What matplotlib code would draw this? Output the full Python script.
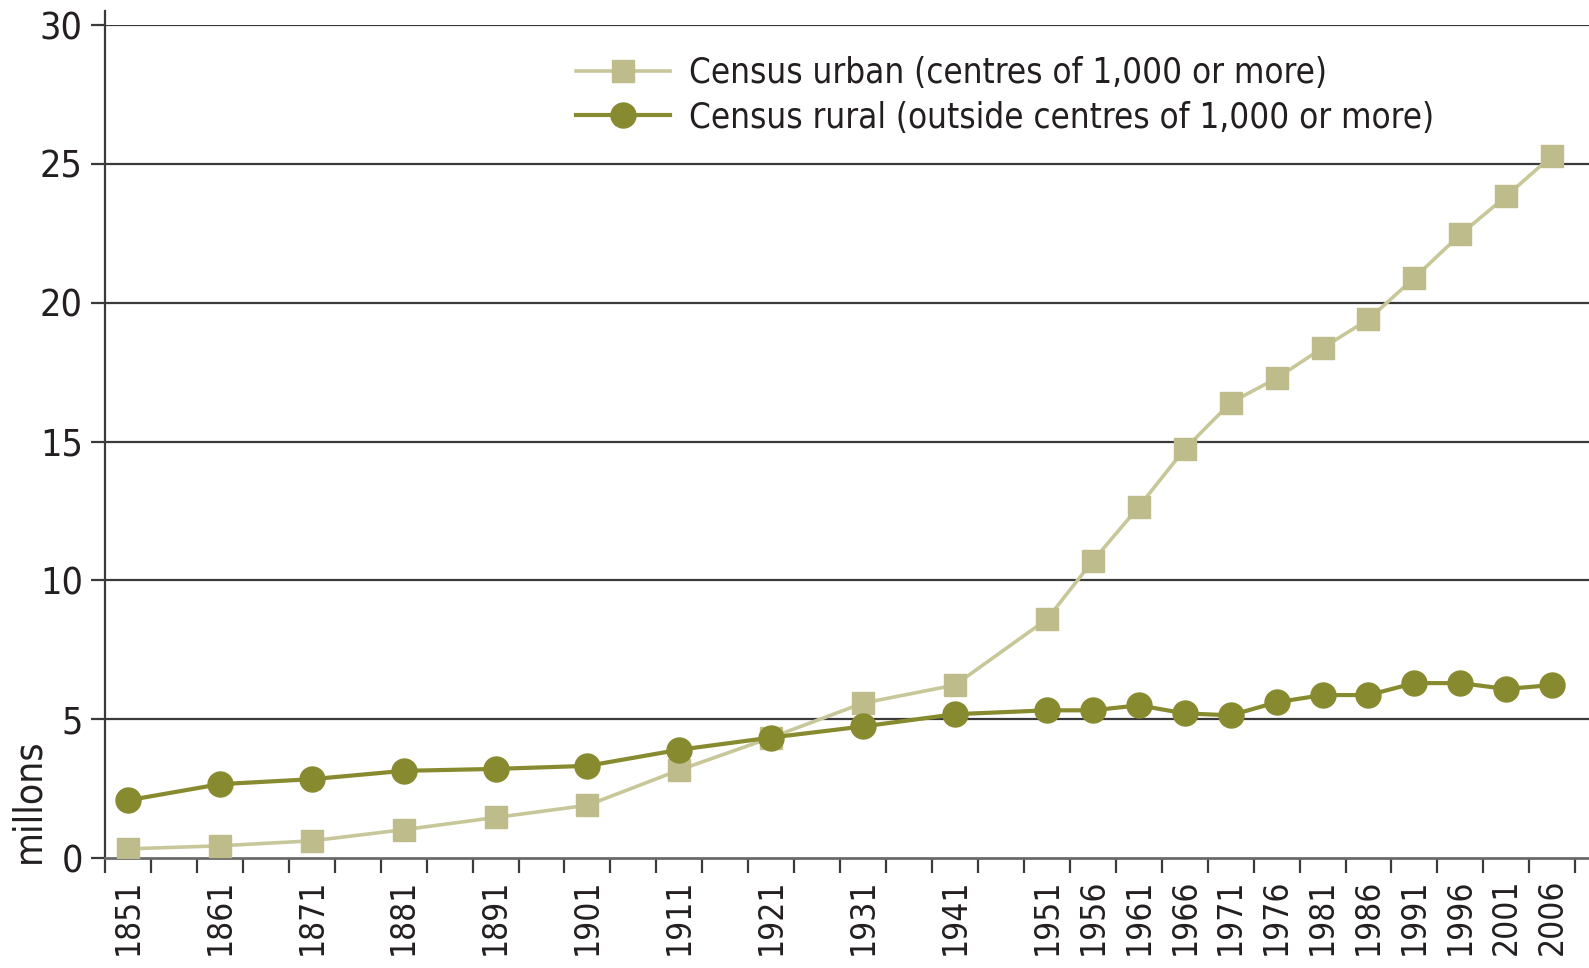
import numpy as np
import matplotlib.pyplot as plt
from matplotlib import font_manager
from matplotlib.ticker import FixedLocator

# census years and population (millions)
years = [1851, 1861, 1871, 1881, 1891, 1901, 1911, 1921, 1931, 1941,
         1951, 1956, 1961, 1966, 1971, 1976, 1981, 1986, 1991, 1996, 2001, 2006]
urban = [0.33, 0.44, 0.62, 1.02, 1.46, 1.90, 3.17, 4.34, 5.58, 6.23,
         8.60, 10.70, 12.65, 14.73, 16.40, 17.28, 18.37, 19.40, 20.90, 22.46, 23.84, 25.30]
rural = [2.08, 2.66, 2.84, 3.14, 3.21, 3.32, 3.90, 4.34, 4.74, 5.18,
         5.32, 5.32, 5.50, 5.21, 5.14, 5.61, 5.87, 5.87, 6.30, 6.30, 6.09, 6.23]
yticks = [0, 5, 10, 15, 20, 25, 30]
labels = ["Census urban (centres of 1,000 or more)",
          "Census rural (outside centres of 1,000 or more)"]

URBAN_C = "#bdbc8a"
URBAN_LINE = "#c8c79a"
RURAL_C = "#878a2e"
TEXT_C = "#231f20"
GRID_C = "#3a3a3a"

names = {f.name for f in font_manager.fontManager.ttflist}
if "Liberation Sans Narrow" in names:
    plt.rcParams["font.family"] = ["Liberation Sans Narrow", "DejaVu Sans"]
else:
    plt.rcParams["font.family"] = ["DejaVu Sans"]
    plt.rcParams["font.stretch"] = "condensed"

fig = plt.figure(figsize=(15.89, 9.68), dpi=100)
ax = fig.add_axes([0.0661, 0.1136, 0.9339, 0.8605])

ax.plot(years, urban, color=URBAN_LINE, lw=2.6, marker="s", ms=16,
        mfc=URBAN_C, mec=URBAN_C, label=labels[0], zorder=4)
ax.plot(years, rural, color=RURAL_C, lw=3.0, marker="o", ms=18,
        mfc=RURAL_C, mec=RURAL_C, label=labels[1], zorder=5)

ax.set_xlim(1848.5, 2010)
ax.set_ylim(0, 30)

for y in yticks[1:]:
    ax.axhline(y, color=GRID_C, lw=1.6, zorder=1)

ax.set_yticks(yticks)
ax.tick_params(axis="y", length=10, width=1.6, color=GRID_C, labelsize=27,
               labelcolor=TEXT_C, pad=6, direction="out")

ax.xaxis.set_major_locator(FixedLocator(years))
ax.set_xticklabels([str(y) for y in years], rotation=90)
ax.xaxis.set_minor_locator(FixedLocator(np.arange(1848.5, 2010, 5)))
ax.tick_params(axis="x", which="major", length=0, labelsize=24,
               labelcolor=TEXT_C, pad=15)
ax.tick_params(axis="x", which="minor", length=11, width=1.6, color=GRID_C,
               direction="out")

for s in ["top", "right"]:
    ax.spines[s].set_visible(False)
ax.spines["left"].set_color(GRID_C)
ax.spines["left"].set_linewidth(1.6)
ax.spines["left"].set_bounds(0, 30.5)
ax.spines["bottom"].set_color("#6a6a6a")
ax.spines["bottom"].set_linewidth(2.0)

fig.text(0.018, 0.108, "millons", rotation=90, ha="center", va="bottom",
         fontsize=28, color=TEXT_C)

leg = ax.legend(loc="upper left", bbox_to_anchor=(0.3625, 0.942),
                bbox_transform=fig.transFigure, frameon=False, fontsize=25,
                handlelength=2.7, handletextpad=0.55, labelspacing=0.3,
                borderpad=0, borderaxespad=0)
for t in leg.get_texts():
    t.set_color(TEXT_C)

fig.savefig("out.png", dpi=100, facecolor="white")
